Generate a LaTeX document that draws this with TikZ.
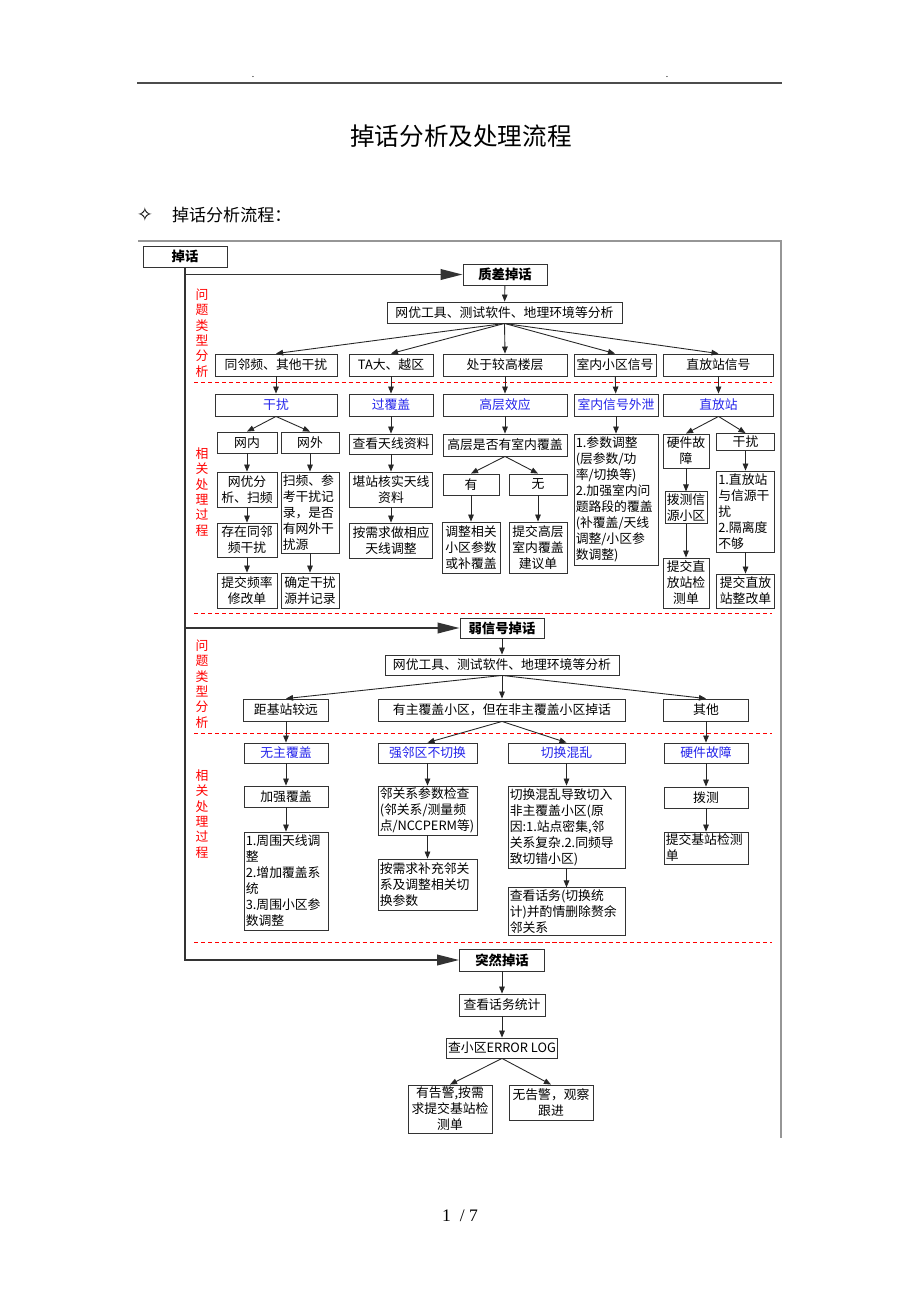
\documentclass[tikz,border=0pt]{standalone}
\usepackage{fontspec}
\setmainfont{Noto Sans CJK SC}
\newfontfamily\serifnum{Liberation Serif}
\newfontfamily\starfont{DejaVu Sans}
\usetikzlibrary{arrows.meta}
\definecolor{lblue}{RGB}{35,35,235}
\definecolor{framegray}{RGB}{150,150,150}

\begin{document}
\begin{tikzpicture}[x=0.02cm, y=-0.02cm,
  every node/.style={font=\fontsize{7.3}{9.1}\selectfont, inner sep=1pt},
  sz/.style 2 args={minimum width=#1*0.02cm, minimum height=#2*0.02cm},
  box/.style={draw=black!80, line width=0.5pt, align=center, fill=white},
  lbox/.style 2 args={box, align=left, text width=#1*0.02cm-2pt, minimum height=#2*0.02cm},
  hl/.style={text=lblue},
  hd/.style={font=\fontsize{7.6}{9.1}\selectfont\bfseries},
  side/.style={text=red, align=center, inner sep=0pt, font=\fontsize{7.3}{8.7}\selectfont},
  arr/.style={-{Triangle[length=4pt,width=3.2pt]}, line width=0.5pt, black!85},
  trunk/.style={-{Triangle[length=12.5pt,width=6pt]}, line width=1.1pt, black!80},
  sep/.style={red, line width=0.5pt, dash pattern=on 2.4pt off 1.6pt}]
  \fill[white] (0,0) rectangle (920,1302);
  \useasboundingbox (0,0) rectangle (920,1302);

  % page head
  \draw[black!70, line width=0.9pt] (137,83) -- (782,83);
  \node[font=\tiny] (dotl) at (253,77) {.};
  \node[font=\tiny] (dotr) at (667,77) {.};
  \node[font=\fontsize{14}{16}\selectfont] (title) at (461,136) {掉话分析及处理流程};
  \node[font=\starfont\fontsize{11}{13}\selectfont] (star) at (145,214) {✧};
  \node[font=\fontsize{9.7}{12}\selectfont, anchor=west] (subtitle) at (170,215) {掉话分析流程：};
  \draw[framegray, line width=0.6pt] (138,241) -- (781,241) -- (781,1138);

  % side labels and separators
  \node[side] (lbl1) at (202,333) {问\\题\\类\\型\\分\\析};
  \node[side] (lbl2) at (202,492) {相\\关\\处\\理\\过\\程};
  \node[side] (lbl3) at (202,684) {问\\题\\类\\型\\分\\析};
  \node[side] (lbl4) at (202,814) {相\\关\\处\\理\\过\\程};
  \draw[sep] (194,382) -- (772,382);
  \draw[sep] (194,613) -- (772,613);
  \draw[sep] (194,733) -- (772,733);
  \draw[sep] (194,942) -- (772,942);

  % quality drops
  \node[box, hd, sz={84}{21}] (diaohua) at (185,256.5) {掉话};
  \node[box, hd, sz={84}{21}] (zhicha) at (505,274.5) {质差掉话};
  \node[box, sz={235}{21}] (fenxi1) at (504.5,312.5) {网优工具、测试软件、地理环境等分析};
  \node[box, sz={122}{22}] (tongpin) at (276,365) {同邻频、其他干扰};
  \node[box, sz={84}{22}] (tada) at (391,365) {TA大、越区};
  \node[box, sz={124}{22}] (gaolou) at (505,365) {处于较高楼层};
  \node[box, sz={82}{22}] (shinei) at (615,365) {室内小区信号};
  \node[box, sz={110}{22}] (zhifang) at (718.5,365) {直放站信号};

  \node[box, hl, sz={122}{22}] (ganrao) at (276,405) {干扰};
  \node[box, hl, sz={84}{22}] (guofg) at (391,405) {过覆盖};
  \node[box, hl, sz={124}{22}] (gaoceng) at (505,405) {高层效应};
  \node[box, hl, sz={84}{22}] (xielou) at (616,405) {室内信号外泄};
  \node[box, hl, sz={110}{22}] (zfz) at (718.5,405) {直放站};

  \node[box, sz={60}{21}] (wangnei) at (247,442.5) {网内};
  \node[box, sz={58}{21}] (wangwai) at (310,442.5) {网外};
  \node[box, sz={60}{35}] (wyfx) at (247,489.5) {网优分\\析、扫频};
  \node[lbox={58}{81}] (saopin) at (310,512.5) {扫频、参\\考干扰记\\录，是否\\有网外干\\扰源};
  \node[box, sz={60}{34}] (cunzai) at (247,540) {存在同邻\\频干扰};
  \node[box, sz={60}{35}] (tjpl) at (247,590.5) {提交频率\\修改单};
  \node[box, sz={58}{35}] (qdgr) at (310,590.5) {确定干扰\\源并记录};

  \node[box, sz={83}{20}] (cktx) at (391,444) {查看天线资料};
  \node[box, sz={83}{35}] (kzhs) at (391,489.5) {堪站核实天线\\资料};
  \node[box, sz={83}{35}] (axqtz) at (391,540.5) {按需求做相应\\天线调整};

  \node[box, sz={124}{22}] (gcsf) at (505,445) {高层是否有室内覆盖};
  \node[box, sz={56}{21}] (you) at (471,484.5) {有};
  \node[box, sz={58}{21}] (wu) at (538,484.5) {无};
  \node[box, sz={58}{51}] (tzxg) at (471,547.5) {调整相关\\小区参数\\或补覆盖};
  \node[box, sz={58}{51}] (tjgc) at (538,547.5) {提交高层\\室内覆盖\\建议单};

  \node[lbox={84}{131}] (cstz) at (616,499.5) {1.参数调整\\(层参数/功\\率/切换等)\\2.加强室内问\\题路段的覆盖\\(补覆盖/天线\\调整/小区参\\数调整)};

  \node[box, sz={46}{34}] (yjgz) at (686,451) {硬件故\\障};
  \node[box, sz={58}{17}] (ganrao2) at (745.5,442) {干扰};
  \node[box, sz={41}{31}] (bcxy) at (686,507.5) {拨测信\\源小区};
  \node[box, sz={46}{50}] (tjzf) at (686,583) {提交直\\放站检\\测单};
  \node[lbox={58}{81}] (zfgr) at (745.5,511.5) {1.直放站\\与信源干\\扰\\2.隔离度\\不够};
  \node[box, sz={58}{34}] (tjzg) at (745.5,591) {提交直放\\站整改单};

  % weak signal drops
  \node[box, hd, sz={84}{20}] (ruoxh) at (502,628) {弱信号掉话};
  \node[box, sz={234}{20}] (fenxi2) at (502,665) {网优工具、测试软件、地理环境等分析};
  \node[box, sz={85}{22}] (jjz) at (286,710) {距基站较远};
  \node[box, sz={247}{22}] (yzfg) at (502,710) {有主覆盖小区，但在非主覆盖小区掉话};
  \node[box, sz={85}{22}] (qita) at (706,710) {其他};

  \node[box, hl, sz={84}{20}] (wzfg) at (286,753) {无主覆盖};
  \node[box, sz={84}{21}] (jqfg) at (286,796.5) {加强覆盖};
  \node[lbox={84}{98}] (zwtx) at (286,881) {1.周围天线调\\整\\2.增加覆盖系\\统\\3.周围小区参\\数调整};

  \node[box, hl, sz={99}{20}] (qlq) at (427.5,753) {强邻区不切换};
  \node[lbox={99}{49}] (glxc) at (427.5,810.5) {邻关系参数检查\\(邻关系/测量频\\点/NCCPERM等)};
  \node[lbox={99}{51}] (axqbc) at (427.5,884.5) {按需求补充邻关\\系及调整相关切\\换参数};

  \node[box, hl, sz={117}{20}] (qhhl) at (566.5,753) {切换混乱};
  \node[lbox={117}{82}] (qhdz) at (566.5,827) {切换混乱导致切入\\非主覆盖小区(原\\因:1.站点密集,邻\\关系复杂.2.同频导\\致切错小区)};
  \node[lbox={117}{47}] (ckhw) at (566.5,911.5) {查看话务(切换统\\计)并酌情删除赘余\\邻关系};

  \node[box, hl, sz={84}{20}] (yjgz2) at (706,753) {硬件故障};
  \node[box, sz={84}{21}] (boce) at (706,797.5) {拨测};
  \node[lbox={84}{32}] (tjjz) at (706,848) {提交基站检测\\单};

  % sudden drops
  \node[box, hd, sz={85}{22}] (turan) at (502,960) {突然掉话};
  \node[box, sz={86}{22}] (ckhwtj) at (502,1005) {查看话务统计};
  \node[box, sz={106}{20}] (errlog) at (502,1048) {查小区ERROR LOG};
  \node[box, sz={84}{48}] (ygj) at (450,1109) {有告警,按需\\求提交基站检\\测单};
  \node[box, sz={84}{35}] (wgj) at (551,1102.5) {无告警，观察\\跟进};

  \node[font=\serifnum\fontsize{10}{12}\selectfont] (pageno) at (460,1216) {1\ \ / 7};

  % trunk
  \draw[trunk] (diaohua.south) -- (diaohua.south |- turan) -- (turan);
  \draw[trunk] (diaohua.south |- zhicha) -- (zhicha);
  \draw[trunk] (diaohua.south |- ruoxh) -- (ruoxh);

  % connectors, quality drops
  \draw[arr] (zhicha) -- (fenxi1);
  \draw[arr] (fenxi1.south) -- (tongpin.north);
  \draw[arr] (fenxi1.south) -- (tada.north);
  \draw[arr] (fenxi1.south) -- (gaolou.north);
  \draw[arr] (fenxi1.south) -- (shinei.north);
  \draw[arr] (fenxi1.south) -- (zhifang.north);
  \draw[arr] (tongpin) -- (ganrao);
  \draw[arr] (tada) -- (guofg);
  \draw[arr] (gaolou) -- (gaoceng);
  \draw[arr] (shinei) -- (xielou);
  \draw[arr] (zhifang) -- (zfz);
  \draw[arr] (ganrao.south) -- (wangnei.north);
  \draw[arr] (ganrao.south) -- (wangwai.north);
  \draw[arr] (wangnei) -- (wyfx);
  \draw[arr] (wyfx) -- (cunzai);
  \draw[arr] (cunzai) -- (tjpl);
  \draw[arr] (wangwai) -- (saopin);
  \draw[arr] (saopin) -- (qdgr);
  \draw[arr] (guofg) -- (cktx);
  \draw[arr] (cktx) -- (kzhs);
  \draw[arr] (kzhs) -- (axqtz);
  \draw[arr] (gaoceng) -- (gcsf);
  \draw[arr] (gcsf.south) -- (you.north);
  \draw[arr] (gcsf.south) -- (wu.north);
  \draw[arr] (you) -- (tzxg);
  \draw[arr] (wu) -- (tjgc);
  \draw[arr] (xielou) -- (cstz);
  \draw[arr] (zfz.south) -- (yjgz.north);
  \draw[arr] (zfz.south) -- (ganrao2.north);
  \draw[arr] (yjgz) -- (bcxy);
  \draw[arr] (bcxy) -- (tjzf);
  \draw[arr] (ganrao2) -- (zfgr);
  \draw[arr] (zfgr) -- (tjzg);

  % connectors, weak signal drops
  \draw[arr] (ruoxh) -- (fenxi2);
  \draw[arr] (fenxi2.south) -- (jjz.north);
  \draw[arr] (fenxi2.south) -- (yzfg.north);
  \draw[arr] (fenxi2.south) -- (qita.north);
  \draw[arr] (jjz) -- (wzfg);
  \draw[arr] (wzfg) -- (jqfg);
  \draw[arr] (jqfg) -- (zwtx);
  \draw[arr] (yzfg.south) -- (qlq.north);
  \draw[arr] (yzfg.south) -- (qhhl.north);
  \draw[arr] (qlq) -- (glxc);
  \draw[arr] (glxc) -- (axqbc);
  \draw[arr] (qhhl) -- (qhdz);
  \draw[arr] (qhdz) -- (ckhw);
  \draw[arr] (qita) -- (yjgz2);
  \draw[arr] (yjgz2) -- (boce);
  \draw[arr] (boce) -- (tjjz);

  % connectors, sudden drops
  \draw[arr] (turan) -- (ckhwtj);
  \draw[arr] (ckhwtj) -- (errlog);
  \draw[arr] (errlog.south) -- (ygj.north);
  \draw[arr] (errlog.south) -- (wgj.north);
\end{tikzpicture}
\end{document}
